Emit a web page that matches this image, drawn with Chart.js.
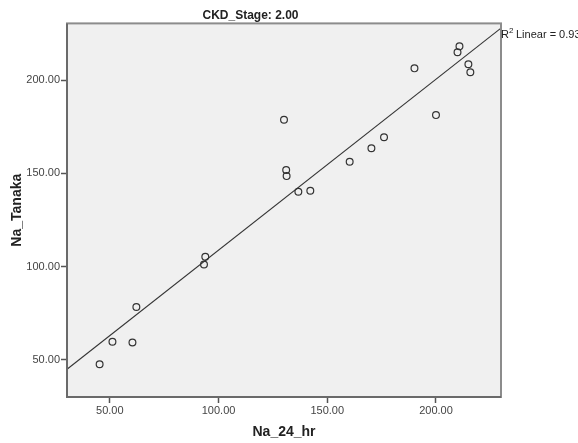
<!DOCTYPE html>
<html>
<head>
    <title>CKD_Stage 2.00</title>
    <script src="https://cdn.jsdelivr.net/npm/chart.js"></script>
    <style>
        body { margin: 0; background: #fff; }
    </style>
</head>
<body>
    <div>
        <canvas id="myChart" width="578" height="443"></canvas>
    </div>

    <script>
        // values
        const naHr = [45.3, 51.2, 60.4, 62.2, 93.9, 93.3, 130.1, 131.1, 131.3, 136.7,
                      142.2, 160.3, 170.3, 176.1, 200.0, 190.1, 210.8, 209.9, 214.9, 215.8];
        const naTanaka = [47.6, 59.6, 59.2, 78.3, 105.2, 101.1, 178.7, 151.7, 148.5, 140.1,
                          140.6, 156.2, 163.4, 169.3, 181.2, 206.3, 218.1, 214.9, 208.5, 204.2];
        const xTicks = [50, 100, 150, 200];
        const yTicks = [50, 100, 150, 200];
        const xRange = [30.3, 229.9];
        const yRange = [30.0, 230.4];
        const r2Label = '0.937';

        // least squares fit line (what SPSS draws)
        const n = naHr.length;
        const mx = naHr.reduce((a, b) => a + b, 0) / n;
        const my = naTanaka.reduce((a, b) => a + b, 0) / n;
        let sxy = 0, sxx = 0;
        for (let i = 0; i < n; i++) {
            sxy += (naHr[i] - mx) * (naTanaka[i] - my);
            sxx += (naHr[i] - mx) * (naHr[i] - mx);
        }
        const slope = sxy / sxx;
        const icpt = my - slope * mx;
        const fitLine = xRange.map(x => ({ x: x, y: icpt + slope * x }));

        const points = naHr.map((x, i) => ({ x: x, y: naTanaka[i] }));

        // plot background, frame and R2 text
        const frame = {
            id: 'frame',
            beforeDraw(chart) {
                const a = chart.chartArea;
                const ctx = chart.ctx;
                ctx.save();
                ctx.fillStyle = '#f0f0f0';
                ctx.fillRect(a.left, a.top, a.right - a.left, a.bottom - a.top);
                ctx.restore();
            },
            afterDraw(chart) {
                const a = chart.chartArea;
                const ctx = chart.ctx;
                ctx.save();
                ctx.strokeStyle = '#8c8c8c';
                ctx.lineWidth = 2;
                ctx.strokeRect(a.left, a.top, a.right - a.left, a.bottom - a.top);
                ctx.strokeStyle = '#6a6a6a';
                ctx.beginPath();
                ctx.moveTo(a.left, a.top);
                ctx.lineTo(a.left, a.bottom);
                ctx.lineTo(a.right, a.bottom);
                ctx.stroke();

                // R2 label at the end of the fit line
                const ys = chart.scales.y;
                let px = a.right, py = ys.getPixelForValue(icpt + slope * xRange[1]);
                if (py < a.top) py = a.top;
                ctx.fillStyle = '#222';
                ctx.textBaseline = 'alphabetic';
                ctx.font = '11px "Liberation Sans", Arial, sans-serif';
                ctx.fillText('R', px, py + 10);
                const rw = ctx.measureText('R').width;
                ctx.font = '8px "Liberation Sans", Arial, sans-serif';
                ctx.fillText('2', px + rw, py + 5);
                ctx.font = '11px "Liberation Sans", Arial, sans-serif';
                ctx.fillText(' Linear = ' + r2Label, px + rw + 4, py + 10);
                ctx.restore();
            }
        };

        const tickFont = { family: '"Liberation Sans", Arial, sans-serif', size: 11 };
        const titleFont = { family: '"Liberation Sans", Arial, sans-serif', size: 14, weight: 'bold' };

        const ctx = document.getElementById('myChart').getContext('2d');
        window.myChart = new Chart(ctx, {
            type: 'scatter',
            data: {
                datasets: [{
                    label: 'Na_Tanaka',
                    data: points,
                    pointStyle: 'circle',
                    pointRadius: 3.4,
                    borderWidth: 1.2,
                    borderColor: '#333',
                    backgroundColor: 'rgba(0,0,0,0)',
                    order: 1
                }, {
                    type: 'line',
                    label: 'Linear fit',
                    data: fitLine,
                    borderColor: '#333',
                    borderWidth: 1.1,
                    pointRadius: 0,
                    fill: false,
                    order: 2
                }]
            },
            options: {
                responsive: false,
                animation: false,
                devicePixelRatio: 1,
                layout: { padding: { top: 0, right: 77, bottom: 0, left: 0 } },
                plugins: {
                    legend: { display: false },
                    tooltip: { enabled: false },
                    title: {
                        display: true,
                        text: 'CKD_Stage: 2.00',
                        color: '#222',
                        font: { family: '"Liberation Sans", Arial, sans-serif', size: 12, weight: 'bold' },
                        padding: { top: 8, bottom: 1 }
                    }
                },
                scales: {
                    x: {
                        type: 'linear',
                        min: xRange[0],
                        max: xRange[1],
                        afterBuildTicks: s => { s.ticks = xTicks.map(v => ({ value: v })); },
                        afterFit: s => { s.height = 46; },
                        ticks: {
                            color: '#444',
                            font: tickFont,
                            padding: 1,
                            maxRotation: 0,
                            callback: v => Number(v).toFixed(2)
                        },
                        grid: { drawOnChartArea: false, tickLength: 6, tickColor: '#555', tickWidth: 1.5 },
                        border: { display: false },
                        title: { display: true, text: 'Na_24_hr', color: '#222', font: titleFont, padding: { top: 3, bottom: 2 } }
                    },
                    y: {
                        type: 'linear',
                        min: yRange[0],
                        max: yRange[1],
                        afterBuildTicks: s => { s.ticks = yTicks.map(v => ({ value: v })); },
                        afterFit: s => { s.width = 67; },
                        ticks: {
                            color: '#444',
                            font: tickFont,
                            padding: 1,
                            callback: v => Number(v).toFixed(2)
                        },
                        grid: { drawOnChartArea: false, tickLength: 6, tickColor: '#555', tickWidth: 1.5 },
                        border: { display: false },
                        title: { display: true, text: 'Na_Tanaka', color: '#222', font: titleFont, padding: { top: 9, bottom: 9 } }
                    }
                }
            },
            plugins: [frame]
        });
    </script>
</body>
</html>
